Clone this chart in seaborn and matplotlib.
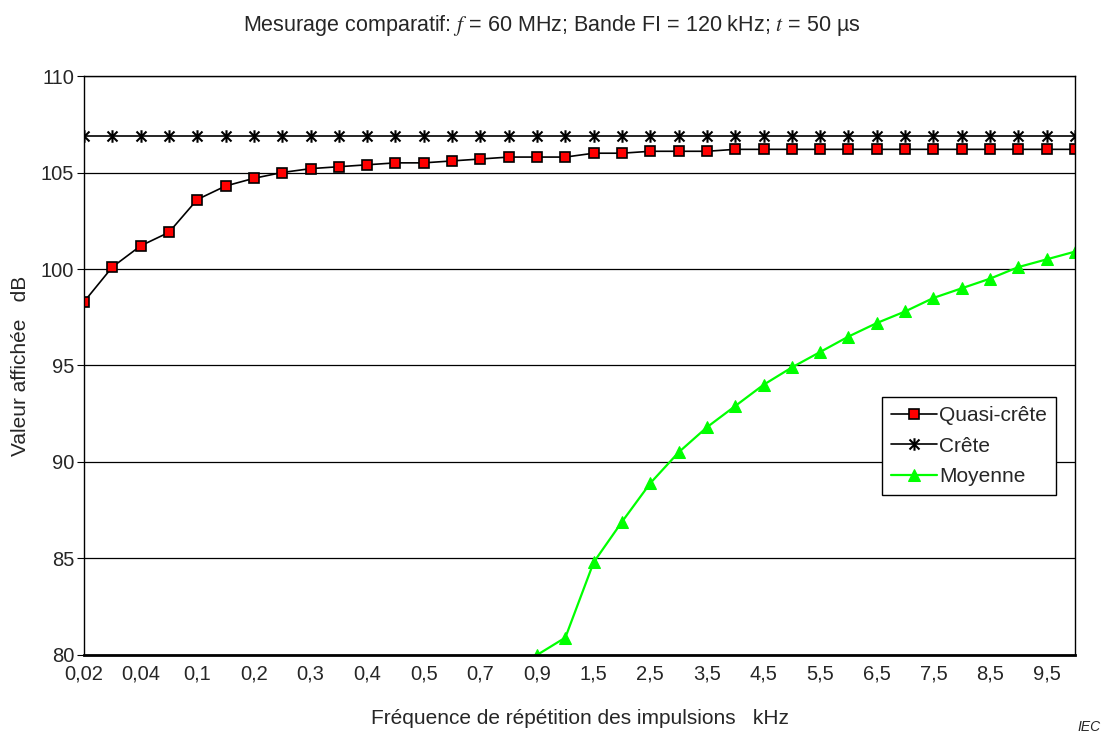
import numpy as np
import pandas as pd
import seaborn as sns
import matplotlib.pyplot as plt
from matplotlib.path import Path

# fréquences de répétition (kHz), une par point
frequences = ['0,02', '0,03', '0,04', '0,05', '0,1', '0,15', '0,2', '0,25', '0,3',
              '0,35', '0,4', '0,45', '0,5', '0,6', '0,7', '0,8', '0,9', '1',
              '1,5', '2', '2,5', '3', '3,5', '4', '4,5', '5', '5,5', '6',
              '6,5', '7', '7,5', '8', '8,5', '9', '9,5', '10']

quasi_crete = [98.3, 100.1, 101.2, 101.9, 103.6, 104.3, 104.7, 105.0, 105.2,
               105.3, 105.4, 105.5, 105.5, 105.6, 105.7, 105.8, 105.8, 105.8,
               106.0, 106.0, 106.1, 106.1, 106.1, 106.2, 106.2, 106.2, 106.2, 106.2,
               106.2, 106.2, 106.2, 106.2, 106.2, 106.2, 106.2, 106.2]
crete = [106.9] * len(frequences)
moyenne = [np.nan] * 16 + [80.0, 80.9, 84.8, 86.9, 88.9, 90.5, 91.8, 92.9, 94.0, 94.9,
                           95.7, 96.5, 97.2, 97.8, 98.5, 99.0, 99.5, 100.1, 100.5, 100.9]

df = pd.DataFrame({'pos': np.arange(len(frequences)), 'freq': frequences,
                   'Quasi-crête': quasi_crete, 'Crête': crete, 'Moyenne': moyenne})

# astérisque façon Excel : barre verticale + deux diagonales
etoile = Path([(0, -1), (0, 1), (-0.8, -0.8), (0.8, 0.8), (-0.8, 0.8), (0.8, -0.8)],
              [Path.MOVETO, Path.LINETO] * 3)

sns.set_style('white')
plt.rcParams['font.family'] = ['Liberation Sans', 'DejaVu Sans']
plt.rcParams['mathtext.fontset'] = 'stix'

fig = plt.figure(figsize=(11.17, 7.38), dpi=100)
ax = fig.add_axes([0.0752, 0.1125, 0.8872, 0.7845])

sns.lineplot(data=df, x='pos', y='Quasi-crête', ax=ax, color='black', lw=1.2,
             marker='s', markersize=7.5, markerfacecolor='red', markeredgecolor='black',
             markeredgewidth=1.2, label='Quasi-crête')
sns.lineplot(data=df, x='pos', y='Crête', ax=ax, color='black', lw=1.2,
             marker=etoile, markersize=9, markeredgewidth=1.5, markeredgecolor='black',
             markerfacecolor='none', label='Crête')
sns.lineplot(data=df.dropna(), x='pos', y='Moyenne', ax=ax, color='#00ff00', lw=1.6,
             marker='^', markersize=8.5, markerfacecolor='#00ff00', markeredgecolor='#00ff00',
             label='Moyenne')

ax.set_xlim(0, len(frequences) - 1)
ax.set_ylim(80, 110)
ax.set_yticks(range(80, 111, 5))
ax.set_xticks(df['pos'][::2])
ax.set_xticklabels(df['freq'][::2])
ax.set_xticks(np.arange(0, len(frequences), 6), minor=True)
ax.tick_params(axis='x', which='major', length=0, pad=7, labelsize=14.5)
ax.tick_params(axis='x', which='minor', length=5, color='black', direction='out')
ax.tick_params(axis='y', length=5, color='black', direction='out', left=True,
               labelsize=14.5, pad=2)
ax.grid(axis='y', color='black', lw=0.9)
ax.grid(axis='x', which='minor', color='black', lw=0.9)
for s in ax.spines.values():
    s.set_color('black')
    s.set_linewidth(1)
ax.spines['bottom'].set_linewidth(2)

ax.set_xlabel('Fréquence de répétition des impulsions   kHz', fontsize=15, labelpad=18)
ax.set_ylabel('Valeur affichée   dB', fontsize=15, labelpad=8)

fig.text(0.494, 0.966, r'Mesurage comparatif: $f$ = 60 MHz; Bande FI = 120 kHz; $t$ = 50 µs',
         ha='center', va='center', fontsize=15.5)
fig.text(0.985, 0.005, 'IEC', ha='right', va='bottom', fontsize=10, style='italic')

leg = ax.legend(loc='upper left', bbox_to_anchor=(0.805, 0.446), fontsize=15, frameon=True,
                fancybox=False, edgecolor='black', framealpha=1, handlelength=2.2,
                handletextpad=0.1, borderpad=0.45, labelspacing=0.55, borderaxespad=0)
leg.get_frame().set_linewidth(1)

fig.savefig('out.png', dpi=100)
